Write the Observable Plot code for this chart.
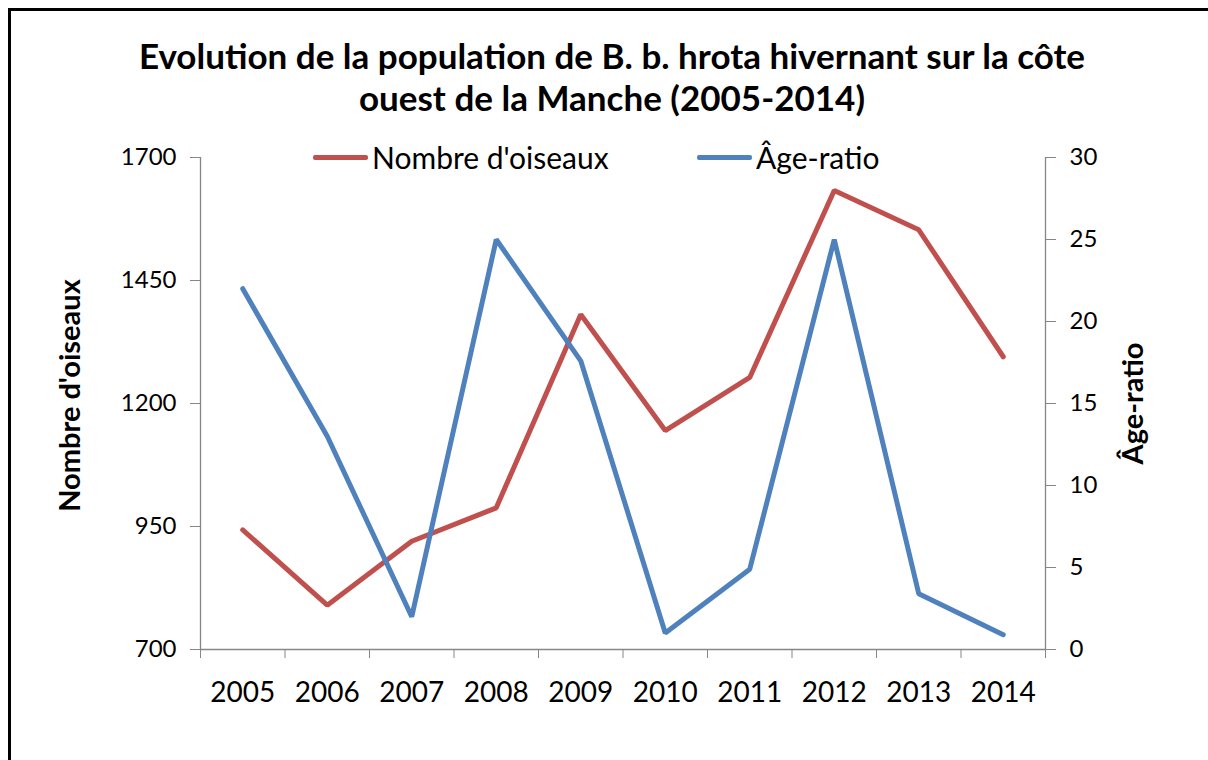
<!DOCTYPE html>
<html>
<head>
<meta charset="utf-8">
<script src="https://cdn.jsdelivr.net/npm/d3@7"></script>
<script src="https://cdn.jsdelivr.net/npm/@observablehq/plot@0.6"></script>
<style>
  html, body { margin: 0; padding: 0; background: #fff; overflow: hidden; }
  #page { position: relative; width: 1208px; height: 760px; overflow: hidden; background: #fff; font-family: Lato, "DejaVu Sans", sans-serif; }
  #bTop { position: absolute; left: 8px; top: 8px; width: 1200px; height: 3px; background: #000; }
  #bLeft { position: absolute; left: 8px; top: 8px; width: 3px; height: 752px; background: #000; }
  #title { position: absolute; left: 0; top: 0; width: 1208px; height: 130px; box-sizing: border-box; padding-top: 34px; padding-left: 16px; text-align: center; font-weight: bold; font-size: 35px; line-height: 42px; color: #000; }
  #chart { position: absolute; left: 0; top: 130px; }
  .leg { position: absolute; top: 140px; font-size: 30px; color: #000; white-space: nowrap; display: flex; align-items: center; height: 34px; }
  .sw { display: inline-block; width: 55px; height: 5px; margin-right: 4px; border-radius: 2px; }
</style>
</head>
<body>
<div id="page">
  <div id="title">Evolution de la population de B. b. hrota hivernant sur la côte<br>ouest de la Manche (2005-2014)</div>
  <div id="chart"></div>
  <div class="leg" style="left:313px"><span class="sw" style="background:#C0504D"></span>Nombre d'oiseaux</div>
  <div class="leg" style="left:697px"><span class="sw" style="background:#4F81BD"></span>Âge-ratio</div>
  <div id="bTop"></div>
  <div id="bLeft"></div>
</div>
<script>
const years = [2005, 2006, 2007, 2008, 2009, 2010, 2011, 2012, 2013, 2014];
const birds = [943, 790, 920, 988, 1381, 1145, 1253, 1633, 1553, 1295];
const ageRatio = [22, 13, 2, 25, 17.6, 1, 4.9, 25, 3.4, 0.9];
const leftTicks = [700, 950, 1200, 1450, 1700];
const rightTicks = [0, 5, 10, 15, 20, 25, 30];
const leftLabel = "Nombre d'oiseaux";
const rightLabel = "Âge-ratio";

const leftDomain = [700, 1700];
const rightDomain = [0, 30];
const toLeft = v => leftDomain[0] + (v - rightDomain[0]) * (leftDomain[1] - leftDomain[0]) / (rightDomain[1] - rightDomain[0]);
const toRight = v => rightDomain[0] + (v - leftDomain[0]) * (rightDomain[1] - rightDomain[0]) / (leftDomain[1] - leftDomain[0]);

const redData = years.map((y, i) => ({year: y, value: birds[i]}));
const blueData = years.map((y, i) => ({year: y, value: toLeft(ageRatio[i])}));
const boundaries = [...years.map(y => y - 0.5), years[years.length - 1] + 0.5];
const grey = "#868686";

const chart = Plot.plot({
  width: 1208,
  height: 630,
  marginLeft: 200,
  marginRight: 163,
  marginTop: 27,
  marginBottom: 111,
  x: {domain: [boundaries[0], boundaries[boundaries.length - 1]]},
  y: {domain: leftDomain},
  style: {fontFamily: "Lato, 'DejaVu Sans', sans-serif", fontSize: "24px", color: "#000", background: "white", overflow: "visible"},
  marks: [
    Plot.ruleX([boundaries[0]], {stroke: grey, strokeWidth: 1.3}),
    Plot.ruleX([boundaries[boundaries.length - 1]], {stroke: grey, strokeWidth: 1.3}),
    Plot.ruleY([leftDomain[0]], {stroke: grey, strokeWidth: 1.3}),
    Plot.axisX(boundaries, {tickSize: 9, tickFormat: () => "", stroke: grey, label: null}),
    Plot.axisX(years, {tickSize: 0, tickPadding: 33, tickFormat: d => String(d), fontSize: 28, label: null}),
    Plot.axisY(leftTicks, {anchor: "left", tickSize: 10, tickPadding: 14, stroke: grey, fill: "#000", fontSize: 24, tickFormat: d => String(d), label: null}),
    Plot.axisY(rightTicks.map(toLeft), {anchor: "right", tickSize: 10, tickPadding: 14, stroke: grey, fill: "#000", fontSize: 24, tickFormat: d => String(Math.round(toRight(d))), label: null}),
    Plot.text([leftLabel], {text: d => d, frameAnchor: "left", textAnchor: "middle", dx: -130, dy: -8, rotate: -90, fontWeight: "bold", fontSize: 29}),
    Plot.text([rightLabel], {text: d => d, frameAnchor: "right", textAnchor: "middle", dx: 88, dy: 0, rotate: -90, fontWeight: "bold", fontSize: 29}),
    Plot.line(redData, {x: "year", y: "value", stroke: "#C0504D", strokeWidth: 5, strokeLinejoin: "miter", strokeLinecap: "round"}),
    Plot.line(blueData, {x: "year", y: "value", stroke: "#4F81BD", strokeWidth: 5, strokeLinejoin: "miter", strokeLinecap: "round"})
  ]
});
document.getElementById("chart").appendChild(chart);
</script>
</body>
</html>
